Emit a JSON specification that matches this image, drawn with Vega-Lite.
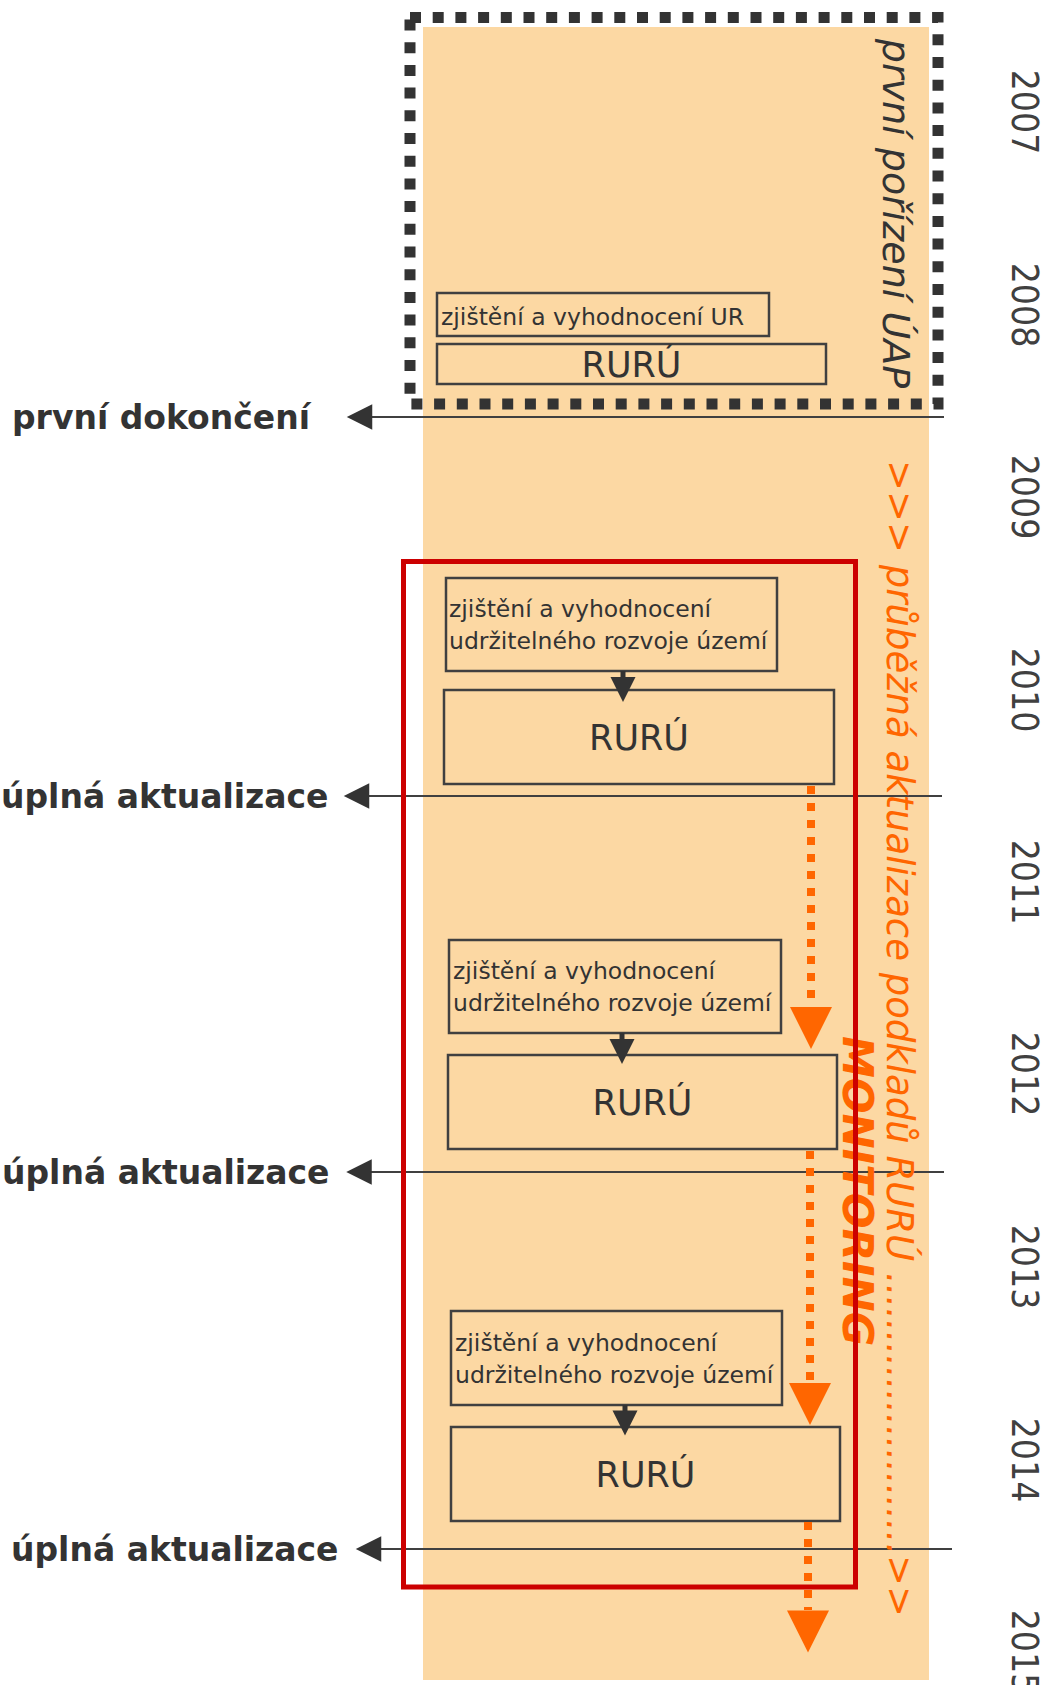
{
  "$schema": "https://vega.github.io/schema/vega-lite/v6.json",
  "width": 1050,
  "height": 1685,
  "autosize": {"type": "none"},
  "padding": 0,
  "background": "white",
  "config": {"view": {"stroke": null}},
  "datasets": {
    "band": [{"x": 423, "x2": 929, "y": 27, "y2": 1680}],
    "dotbox": [{"x": 410, "x2": 938, "y": 17.5, "y2": 404}],
    "hlines": [
      {"x": 360, "x2": 944, "y": 417},
      {"x": 357, "x2": 942, "y": 796},
      {"x": 359, "x2": 944, "y": 1172},
      {"x": 368, "x2": 952, "y": 1549}
    ],
    "leftHeads": [
      {"x": 359.5, "y": 417},
      {"x": 356.5, "y": 796},
      {"x": 359, "y": 1172},
      {"x": 368.5, "y": 1549}
    ],
    "leftLabels": [
      {"x": 12, "y": 429, "text": "první dokončení"},
      {"x": 1, "y": 808, "text": "úplná aktualizace"},
      {"x": 2, "y": 1184, "text": "úplná aktualizace"},
      {"x": 11, "y": 1561, "text": "úplná aktualizace"}
    ],
    "years": [
      {"x": 1012, "y": 112, "text": "2007"},
      {"x": 1012, "y": 305, "text": "2008"},
      {"x": 1012, "y": 497, "text": "2009"},
      {"x": 1012, "y": 690, "text": "2010"},
      {"x": 1012, "y": 882, "text": "2011"},
      {"x": 1012, "y": 1074, "text": "2012"},
      {"x": 1012, "y": 1267, "text": "2013"},
      {"x": 1012, "y": 1460, "text": "2014"},
      {"x": 1012, "y": 1652, "text": "2015"}
    ],
    "boxes": [
      {"x": 437, "x2": 769, "y": 293, "y2": 336},
      {"x": 437, "x2": 826, "y": 344, "y2": 384},
      {"x": 446, "x2": 777, "y": 578, "y2": 671},
      {"x": 444, "x2": 834, "y": 690, "y2": 784},
      {"x": 449, "x2": 781, "y": 940, "y2": 1033},
      {"x": 448, "x2": 837, "y": 1055, "y2": 1149},
      {"x": 451, "x2": 782, "y": 1311, "y2": 1405},
      {"x": 451, "x2": 840, "y": 1427, "y2": 1521}
    ],
    "boxTexts": [
      {"x": 441, "y": 325, "text": "zjištění a vyhodnocení UR"},
      {"x": 449, "y": 617, "text": "zjištění a vyhodnocení"},
      {"x": 449, "y": 649, "text": "udržitelného rozvoje území"},
      {"x": 453, "y": 979, "text": "zjištění a vyhodnocení"},
      {"x": 453, "y": 1011, "text": "udržitelného rozvoje území"},
      {"x": 455, "y": 1351, "text": "zjištění a vyhodnocení"},
      {"x": 455, "y": 1383, "text": "udržitelného rozvoje území"}
    ],
    "rurus": [
      {"x": 631.5, "y": 377, "text": "RURÚ"},
      {"x": 639, "y": 750, "text": "RURÚ"},
      {"x": 642.5, "y": 1115, "text": "RURÚ"},
      {"x": 645.5, "y": 1487, "text": "RURÚ"}
    ],
    "blackStems": [
      {"x": 623, "y": 671, "y2": 680},
      {"x": 622, "y": 1033, "y2": 1042},
      {"x": 625, "y": 1405, "y2": 1414}
    ],
    "blackHeads": [
      {"x": 623, "y": 689.5},
      {"x": 622, "y": 1051.5},
      {"x": 625, "y": 1423}
    ],
    "orangeStems": [
      {"x": 811, "y": 786, "y2": 1007},
      {"x": 810, "y": 1151, "y2": 1383},
      {"x": 808, "y": 1522, "y2": 1610}
    ],
    "orangeHeads": [
      {"x": 811, "y": 1028},
      {"x": 810, "y": 1404},
      {"x": 808, "y": 1631.5}
    ],
    "redBox": [{"x": 403.5, "x2": 855.5, "y": 561.5, "y2": 1587}],
    "uapText": [{"x": 883, "y": 213.5, "text": "první pořízení ÚAP"}],
    "orangeText": [{"x": 887, "y": 1038.5, "text": ">>> průběžná aktualizace podkladů RURÚ ........................>>"}],
    "monitoring": [{"x": 843, "y": 1191, "text": "MONITORING"}]
  },
  "encoding": {
    "x": {"field": "x", "type": "quantitative", "scale": {"domain": [0, 1050], "nice": false, "zero": false}, "axis": null},
    "y": {"field": "y", "type": "quantitative", "scale": {"domain": [0, 1685], "nice": false, "zero": false, "reverse": true}, "axis": null}
  },
  "layer": [
    {
      "data": {"name": "band"},
      "mark": {"type": "rect", "color": "#FCD8A3", "opacity": 1},
      "encoding": {"x2": {"field": "x2"}, "y2": {"field": "y2"}}
    },
    {
      "data": {"name": "dotbox"},
      "mark": {"type": "rect", "filled": false, "stroke": "#333333", "strokeWidth": 11, "strokeDash": [11, 11.7], "opacity": 1},
      "encoding": {"x2": {"field": "x2"}, "y2": {"field": "y2"}}
    },
    {
      "data": {"name": "hlines"},
      "mark": {"type": "rule", "color": "#404040", "strokeWidth": 2},
      "encoding": {"x2": {"field": "x2"}}
    },
    {
      "data": {"name": "leftHeads"},
      "mark": {"type": "point", "shape": "M1,-1L1,1L-1,0Z", "size": 650, "filled": true, "color": "#333333", "opacity": 1, "strokeWidth": 0}
    },
    {
      "data": {"name": "leftLabels"},
      "mark": {"type": "text", "align": "left", "baseline": "alphabetic", "font": "DejaVu Sans", "fontWeight": "bold", "fontSize": 33, "color": "#333333"},
      "encoding": {"text": {"field": "text"}}
    },
    {
      "data": {"name": "years"},
      "mark": {"type": "text", "align": "center", "baseline": "alphabetic", "angle": 90, "font": "Liberation Sans Narrow, DejaVu Sans Condensed, DejaVu Sans", "fontSize": 37, "color": "#404040"},
      "encoding": {"text": {"field": "text"}}
    },
    {
      "data": {"name": "boxes"},
      "mark": {"type": "rect", "filled": false, "stroke": "#404040", "strokeWidth": 2.5, "opacity": 1},
      "encoding": {"x2": {"field": "x2"}, "y2": {"field": "y2"}}
    },
    {
      "data": {"name": "boxTexts"},
      "mark": {"type": "text", "align": "left", "baseline": "alphabetic", "font": "DejaVu Sans", "fontSize": 23.5, "color": "#333333"},
      "encoding": {"text": {"field": "text"}}
    },
    {
      "data": {"name": "rurus"},
      "mark": {"type": "text", "align": "center", "baseline": "alphabetic", "font": "DejaVu Sans", "fontSize": 35, "color": "#333333"},
      "encoding": {"text": {"field": "text"}}
    },
    {
      "data": {"name": "blackStems"},
      "mark": {"type": "rule", "color": "#333333", "strokeWidth": 5},
      "encoding": {"y2": {"field": "y2"}}
    },
    {
      "data": {"name": "blackHeads"},
      "mark": {"type": "point", "shape": "M-1,-1L1,-1L0,1Z", "size": 625, "filled": true, "color": "#333333", "opacity": 1, "strokeWidth": 0}
    },
    {
      "data": {"name": "uapText"},
      "mark": {"type": "text", "align": "center", "baseline": "alphabetic", "angle": 90, "font": "DejaVu Sans", "fontStyle": "italic", "fontSize": 38, "color": "#333333"},
      "encoding": {"text": {"field": "text"}}
    },
    {
      "data": {"name": "orangeText"},
      "mark": {"type": "text", "align": "center", "baseline": "alphabetic", "angle": 90, "font": "DejaVu Sans", "fontStyle": "italic", "fontSize": 37, "color": "#FF6600"},
      "encoding": {"text": {"field": "text"}}
    },
    {
      "data": {"name": "orangeStems"},
      "mark": {"type": "rule", "color": "#FF6600", "strokeWidth": 8, "strokeDash": [8, 9], "strokeCap": "butt"},
      "encoding": {"y2": {"field": "y2"}}
    },
    {
      "data": {"name": "orangeHeads"},
      "mark": {"type": "point", "shape": "M-1,-1L1,-1L0,1Z", "size": 1764, "filled": true, "color": "#FF6600", "opacity": 1, "strokeWidth": 0}
    },
    {
      "data": {"name": "monitoring"},
      "mark": {"type": "text", "align": "center", "baseline": "alphabetic", "angle": 90, "font": "DejaVu Sans", "fontStyle": "italic", "fontWeight": "bold", "fontSize": 42, "color": "#FF6600"},
      "encoding": {"text": {"field": "text"}}
    },
    {
      "data": {"name": "redBox"},
      "mark": {"type": "rect", "filled": false, "stroke": "#CC0000", "strokeWidth": 5, "opacity": 1},
      "encoding": {"x2": {"field": "x2"}, "y2": {"field": "y2"}}
    }
  ]
}
